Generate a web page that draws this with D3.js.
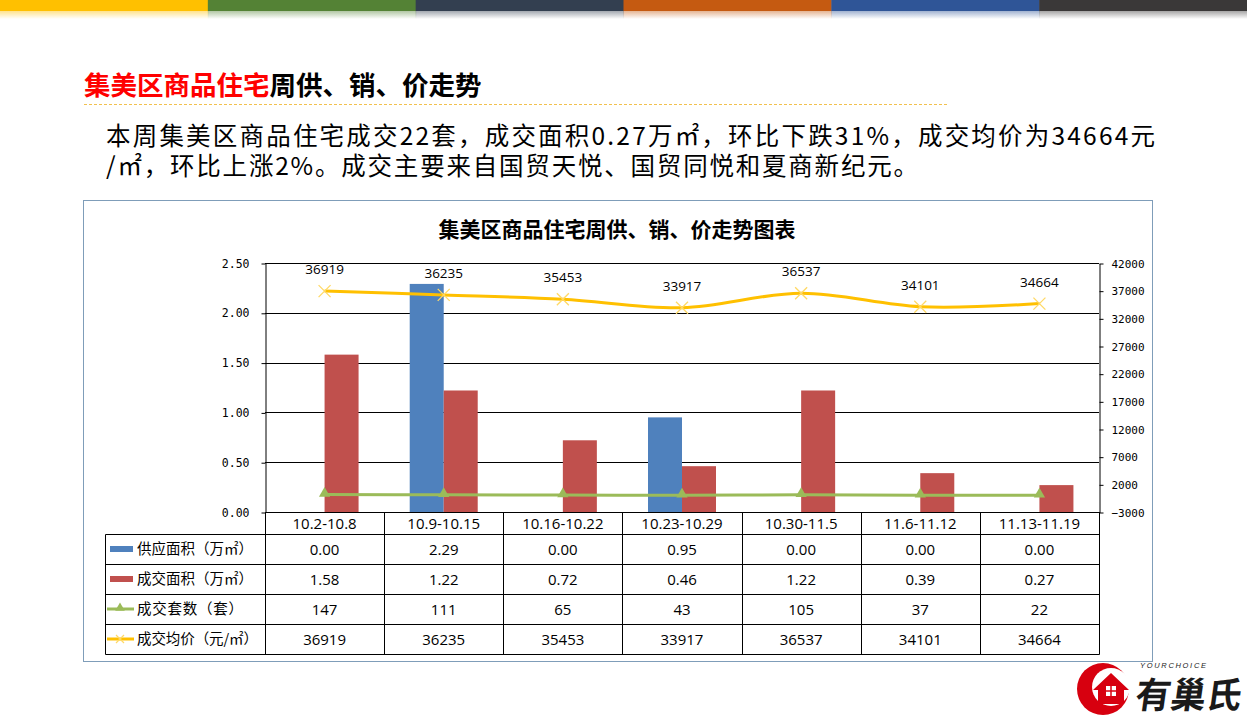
<!DOCTYPE html>
<html>
<head>
<meta charset="utf-8">
<script src="https://cdn.jsdelivr.net/npm/d3@7/dist/d3.min.js"></script>
<style>
html,body{margin:0;padding:0;background:#fff;}
svg{display:block;}
</style>
</head>
<body>
<svg id="chart" width="1247" height="718"></svg>
<script>
// ---------- data ----------
const categories = ['10.2-10.8','10.9-10.15','10.16-10.22','10.23-10.29','10.30-11.5','11.6-11.12','11.13-11.19'];
const supplyArea = [0.00, 2.29, 0.00, 0.95, 0.00, 0.00, 0.00];
const dealArea   = [1.58, 1.22, 0.72, 0.46, 1.22, 0.39, 0.27];
const dealUnits  = [147, 111, 65, 43, 105, 37, 22];
const avgPrice   = [36919, 36235, 35453, 33917, 36537, 34101, 34664];
const leftTicks  = [0, 0.5, 1.0, 1.5, 2.0, 2.5];
const rightTicks = [-3000, 2000, 7000, 12000, 17000, 22000, 27000, 32000, 37000, 42000];
const seriesNames = ['供应面积（万㎡）','成交面积（万㎡）','成交套数（套）','成交均价（元/㎡）'];
const stripeColors = ['#FFC000','#548235','#333F50','#C55A11','#2F5597','#3A3838'];

const COL = {blue:'#4F81BD', red:'#C0504D', green:'#9BBB59', yellow:'#FFC000'};
const CJK = '"Noto Sans CJK SC","Noto Sans",sans-serif';

const svg = d3.select('#chart');
const defs = svg.append('defs');

// ---------- top stripe ----------
const sw = 1247 / stripeColors.length;
stripeColors.forEach((c,i)=>{
  const g = defs.append('linearGradient').attr('id','fade'+i).attr('x1',0).attr('y1',0).attr('x2',0).attr('y2',1);
  g.append('stop').attr('offset','0%').attr('stop-color',c).attr('stop-opacity',0.45);
  g.append('stop').attr('offset','100%').attr('stop-color',c).attr('stop-opacity',0);
});
svg.selectAll('rect.stripe').data(stripeColors).join('rect')
  .attr('x',(d,i)=>i*sw).attr('y',0).attr('width',sw+0.5).attr('height',11).attr('fill',d=>d);
svg.selectAll('rect.fade').data(stripeColors).join('rect')
  .attr('x',(d,i)=>i*sw).attr('y',11).attr('width',sw+0.5).attr('height',8).attr('fill',(d,i)=>`url(#fade${i})`);

// ---------- header ----------
const hdr = svg.append('text').attr('x',84).attr('y',95)
  .attr('font-family',CJK).attr('font-size',26.5).attr('font-weight','bold');
hdr.append('tspan').attr('fill','#FF0000').text('集美区商品住宅');
hdr.append('tspan').attr('fill','#000').text('周供、销、价走势');
svg.append('line').attr('x1',84).attr('x2',948).attr('y1',104.5).attr('y2',104.5)
  .attr('stroke','#F2C14E').attr('stroke-width',1).attr('stroke-dasharray','3,2');

svg.append('text').attr('x',106).attr('y',145).attr('font-family',CJK).attr('font-size',24.5)
  .attr('fill','#000').attr('textLength',1049).attr('lengthAdjust','spacing')
  .text('本周集美区商品住宅成交22套，成交面积0.27万㎡，环比下跌31%，成交均价为34664元');
svg.append('text').attr('x',106).attr('y',175).attr('font-family',CJK).attr('font-size',24.5)
  .attr('fill','#000').attr('textLength',812).attr('lengthAdjust','spacing')
  .text('/㎡，环比上涨2%。成交主要来自国贸天悦、国贸同悦和夏商新纪元。');

// ---------- chart frame ----------
svg.append('rect').attr('x',83.5).attr('y',200.5).attr('width',1069).attr('height',461)
  .attr('fill','#fff').attr('stroke','#7F9DB9').attr('stroke-width',1);
svg.append('text').attr('x',617).attr('y',237).attr('text-anchor','middle')
  .attr('font-family',CJK).attr('font-size',21).attr('font-weight','bold').attr('fill','#000')
  .text('集美区商品住宅周供、销、价走势图表');

// ---------- scales ----------
const L = 265, R = 1099, T = 263, B = 512;
const x = d3.scaleBand().domain(categories).range([L,R]).padding(0);
const yL = d3.scaleLinear().domain([0,2.5]).range([B,T]);
const yR = d3.scaleLinear().domain([-3000,42000]).range([B,T]);
const barW = 34;
const sub = d3.scaleBand().domain(['supply','deal']).range([-barW, barW]);

// gridlines
svg.append('g').selectAll('line').data(leftTicks).join('line')
  .attr('x1',L).attr('x2',R).attr('y1',d=>Math.round(yL(d))+0.5).attr('y2',d=>Math.round(yL(d))+0.5)
  .attr('stroke','#000').attr('stroke-width',1);

// axes
const axL = svg.append('g').attr('transform',`translate(${L+0.5},0.5)`)
  .call(d3.axisLeft(yL).tickValues(leftTicks).tickFormat(d3.format('.2f')).tickSize(4).tickSizeOuter(0).tickPadding(12));
const axR = svg.append('g').attr('transform',`translate(${R+0.5},0.5)`)
  .call(d3.axisRight(yR).tickValues(rightTicks).tickFormat(d3.format('d')).tickSize(4).tickSizeOuter(0).tickPadding(8));
axL.selectAll('text').attr('font-size',11.5);
axR.selectAll('text').attr('font-size',11);
[axL,axR].forEach(a=>{
  a.selectAll('text').attr('font-family','"DejaVu Sans Mono",monospace').attr('fill','#000');
  a.selectAll('line,path').attr('stroke','#000');
});

// bars
const barData = categories.map((c,i)=>[
  {cat:c, key:'supply', v:supplyArea[i], color:COL.blue},
  {cat:c, key:'deal', v:dealArea[i], color:COL.red}
]).flat();
svg.append('g').selectAll('rect').data(barData).join('rect')
  .attr('x',d=>x(d.cat)+x.bandwidth()/2+sub(d.key))
  .attr('width',sub.bandwidth())
  .attr('y',d=>yL(d.v))
  .attr('height',d=>B-yL(d.v))
  .attr('fill',d=>d.color);

// green line (units, right axis)
const cx = c => x(c)+x.bandwidth()/2;
const greenPts = categories.map((c,i)=>[cx(c), yR(dealUnits[i])]);
svg.append('path').attr('d',d3.line().curve(d3.curveCatmullRom.alpha(0.5))(greenPts))
  .attr('fill','none').attr('stroke',COL.green).attr('stroke-width',3);
svg.append('g').selectAll('path').data(greenPts).join('path')
  .attr('transform',d=>`translate(${d[0]},${d[1]-1})`)
  .attr('d',d3.symbol().type(d3.symbolTriangle).size(55))
  .attr('fill',COL.green);

// yellow line (price, right axis)
const yelPts = categories.map((c,i)=>[cx(c), yR(avgPrice[i])]);
svg.append('path').attr('d',d3.line().curve(d3.curveCatmullRom.alpha(0.5))(yelPts))
  .attr('fill','none').attr('stroke',COL.yellow).attr('stroke-width',3);
svg.append('g').selectAll('path').data(yelPts).join('path')
  .attr('d',d=>`M${d[0]-6},${d[1]-6}L${d[0]+6},${d[1]+6}M${d[0]-6},${d[1]+6}L${d[0]+6},${d[1]-6}`)
  .attr('stroke','#FFD966').attr('stroke-width',1.3).attr('fill','none');
svg.append('g').selectAll('text').data(avgPrice).join('text')
  .attr('x',(d,i)=>cx(categories[i]))
  .attr('y',(d,i)=>yelPts[i][1]-17)
  .attr('text-anchor','middle')
  .attr('font-family','"Open Sans","Liberation Sans",sans-serif').attr('font-size',13.5).attr('fill','#000')
  .text(d=>d);

// ---------- data table ----------
const rowTop = [B, 534, 564, 594, 624];
const rowBot = [534, 564, 594, 624, 654];
const tbl = svg.append('g').attr('stroke','#000').attr('stroke-width',1);
[534,564,594,624,654].forEach(y=>{
  tbl.append('line').attr('x1',105.5).attr('x2',R+0.5).attr('y1',y+0.5).attr('y2',y+0.5);
});
tbl.append('line').attr('x1',105.5).attr('x2',105.5).attr('y1',534.5).attr('y2',654.5);
x.domain().forEach(c=>{
  tbl.append('line').attr('x1',Math.round(x(c))+0.5).attr('x2',Math.round(x(c))+0.5).attr('y1',B).attr('y2',654.5);
});
tbl.append('line').attr('x1',R+0.5).attr('x2',R+0.5).attr('y1',B).attr('y2',654.5);

const tf = '"Open Sans","Noto Sans CJK SC",sans-serif';
svg.append('g').selectAll('text').data(categories).join('text')
  .attr('x',d=>cx(d)).attr('y',(B+534)/2+5.5).attr('text-anchor','middle')
  .attr('font-family',tf).attr('font-size',15).attr('fill','#000').text(d=>d);

const labelLen = [116, 116, 106, 121];
const rows = [
  {name:seriesNames[0], vals:supplyArea.map(v=>v.toFixed(2)), type:'bar', color:COL.blue},
  {name:seriesNames[1], vals:dealArea.map(v=>v.toFixed(2)), type:'bar', color:COL.red},
  {name:seriesNames[2], vals:dealUnits.map(String), type:'tri', color:COL.green},
  {name:seriesNames[3], vals:avgPrice.map(String), type:'x', color:COL.yellow}
];
rows.forEach((r,ri)=>{
  const yc = (rowTop[ri+1]+rowBot[ri+1])/2;
  const g = svg.append('g');
  if(r.type==='bar'){
    g.append('rect').attr('x',110).attr('y',yc-3).attr('width',23).attr('height',6).attr('fill',r.color);
  } else {
    g.append('line').attr('x1',107).attr('x2',134).attr('y1',yc).attr('y2',yc).attr('stroke',r.color).attr('stroke-width',3);
    if(r.type==='tri'){
      g.append('path').attr('transform',`translate(120,${yc-1})`).attr('d',d3.symbol().type(d3.symbolTriangle).size(40)).attr('fill',r.color);
    } else {
      g.append('path').attr('d',`M116,${yc-4}L124,${yc+4}M116,${yc+4}L124,${yc-4}`).attr('stroke','#FFD966').attr('stroke-width',1.2);
    }
  }
  g.append('text').attr('x',137).attr('y',yc+5).attr('font-family',CJK).attr('font-size',14.5).attr('fill','#000')
    .attr('textLength',labelLen[ri]).attr('lengthAdjust','spacing').text(r.name);
  g.selectAll('text.v').data(r.vals).join('text').attr('class','v')
    .attr('x',(d,i)=>cx(categories[i])).attr('y',yc+5.5).attr('text-anchor','middle')
    .attr('font-family',tf).attr('font-size',15).attr('fill','#000').text(d=>d);
});

// ---------- logo ----------
const logo = svg.append('g');
logo.append('circle').attr('cx',1103).attr('cy',689).attr('r',26).attr('fill','#D7000F');
logo.append('circle').attr('cx',1111).attr('cy',687).attr('r',19).attr('fill','#fff');
logo.append('path').attr('d','M1093,690 L1111,673 L1129,690 L1124,690 L1124,704 L1098,704 L1098,690 Z').attr('fill','#D7000F');
logo.append('rect').attr('x',1106).attr('y',686).attr('width',10).attr('height',10).attr('fill','#fff');
logo.append('line').attr('x1',1111).attr('x2',1111).attr('y1',686).attr('y2',696).attr('stroke','#D7000F').attr('stroke-width',1.5);
logo.append('line').attr('x1',1106).attr('x2',1116).attr('y1',691).attr('y2',691).attr('stroke','#D7000F').attr('stroke-width',1.5);
logo.append('text').attr('x',1140).attr('y',668).attr('font-family','"Liberation Sans",sans-serif')
  .attr('font-size',7.5).attr('font-style','italic').attr('fill','#222').attr('textLength',66).text('YOURCHOICE');
logo.append('text').attr('transform','translate(1134,708) skewX(-8)')
  .attr('font-family',CJK).attr('font-size',36).attr('font-weight','bold').attr('fill','#1a1a1a')
  .attr('textLength',106).attr('lengthAdjust','spacingAndGlyphs').text('有巢氏');
</script>
</body>
</html>
